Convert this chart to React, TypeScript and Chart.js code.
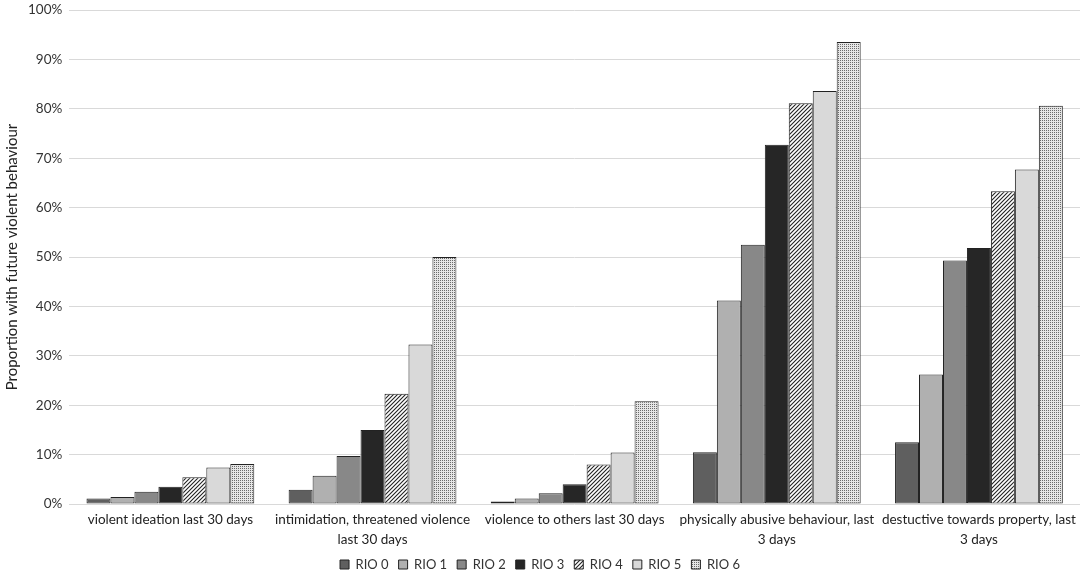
import { useEffect, useRef } from "react";
import { Chart, registerables } from "chart.js";

Chart.register(...registerables);

const categories = [
  "violent ideation last 30 days",
  ["intimidation, threatened violence", "last 30 days"],
  "violence to others last 30 days",
  ["physically abusive behaviour, last", "3 days"],
  ["destuctive towards property, last", "3 days"],
];

const seriesNames = ["RIO 0", "RIO 1", "RIO 2", "RIO 3", "RIO 4", "RIO 5", "RIO 6"];

// percentages per RIO level, one value per category
const rio0 = [1.1, 2.9, 0.5, 10.5, 12.5];
const rio1 = [1.4, 5.7, 1.1, 41.2, 26.2];
const rio2 = [2.5, 9.7, 2.2, 52.5, 49.3];
const rio3 = [3.5, 15.0, 4.0, 72.7, 51.8];
const rio4 = [5.4, 22.3, 8.0, 81.1, 63.3];
const rio5 = [7.4, 32.3, 10.4, 83.6, 67.7];
const rio6 = [8.1, 50.0, 20.8, 93.5, 80.6];

const FONT = "Lato, 'Open Sans', sans-serif";

function hatchPattern(): CanvasPattern | string {
  const c = document.createElement("canvas");
  c.width = 4;
  c.height = 4;
  const g = c.getContext("2d");
  if (!g) return "#888";
  g.fillStyle = "#ffffff";
  g.fillRect(0, 0, 4, 4);
  g.strokeStyle = "#222222";
  g.lineWidth = 1.1;
  g.beginPath();
  g.moveTo(0, 4);
  g.lineTo(4, 0);
  g.moveTo(-1, 1);
  g.lineTo(1, -1);
  g.moveTo(3, 5);
  g.lineTo(5, 3);
  g.stroke();
  return g.createPattern(c, "repeat") || "#888";
}

function dotPattern(): CanvasPattern | string {
  const c = document.createElement("canvas");
  c.width = 2;
  c.height = 2;
  const g = c.getContext("2d");
  if (!g) return "#ccc";
  g.fillStyle = "#e6e6e6";
  g.fillRect(0, 0, 2, 2);
  g.fillStyle = "#6a6a6a";
  g.fillRect(0, 0, 1, 1);
  return g.createPattern(c, "repeat") || "#ccc";
}

const App = () => {
  const chartRef = useRef<HTMLCanvasElement>(null);
  const chartInstanceRef = useRef<Chart>();

  useEffect(() => {
    document.body.style.margin = "0";
    if (!chartRef.current) return;
    const ctx = chartRef.current.getContext("2d");

    const values = [rio0, rio1, rio2, rio3, rio4, rio5, rio6];
    const fills = ["#5f5f5f", "#b0b0b0", "#888888", "#262626", hatchPattern(), "#d9d9d9", dotPattern()];

    const datasets = seriesNames.map((name, i) => ({
      label: name,
      data: values[i],
      backgroundColor: fills[i] as any,
      borderColor: "#222222",
      borderWidth: 1,
      borderSkipped: false as const,
      barPercentage: 1,
      categoryPercentage: 0.83,
    }));

    if (chartInstanceRef.current) {
      chartInstanceRef.current.destroy();
    }

    chartInstanceRef.current = new Chart(ctx!, {
      type: "bar",
      data: { labels: categories as any, datasets },
      options: {
        animation: false,
        responsive: true,
        maintainAspectRatio: false,
        layout: { padding: { top: 10, right: 4, left: 0, bottom: 0 } },
        plugins: {
          legend: {
            position: "bottom",
            maxHeight: 30,
            labels: {
              boxWidth: 9,
              boxHeight: 9,
              padding: 10,
              color: "#333",
              font: { family: FONT, size: 13 },
            },
          },
          tooltip: { enabled: false },
        },
        scales: {
          x: {
            afterFit: (scale: any) => {
              scale.height = 44;
            },
            grid: { display: false, drawTicks: false, tickLength: 0 },
            border: { display: false },
            ticks: {
              color: "#222",
              padding: 6,
              font: { family: FONT, size: 13.5, lineHeight: 1.45 },
              maxRotation: 0,
              autoSkip: false,
            },
          },
          y: {
            min: 0,
            max: 100,
            afterFit: (scale: any) => {
              scale.paddingTop = 0;
            },
            grid: { color: "#d9d9d9", lineWidth: 1, drawTicks: false },
            border: { display: false },
            ticks: {
              stepSize: 10,
              padding: 7,
              color: "#333",
              font: { family: FONT, size: 13.5 },
              callback: (v) => v + "%",
            },
            title: {
              display: true,
              text: "Proportion with future violent behaviour",
              color: "#222",
              font: { family: FONT, size: 15 },
              padding: { top: 3, bottom: 0 },
            },
          },
        },
      },
    });

    return () => {
      if (chartInstanceRef.current) {
        chartInstanceRef.current.destroy();
      }
    };
  }, []);

  return (
    <div style={{ width: 1084, height: 578, background: "#fff" }}>
      <canvas ref={chartRef}></canvas>
    </div>
  );
};

export default App;
